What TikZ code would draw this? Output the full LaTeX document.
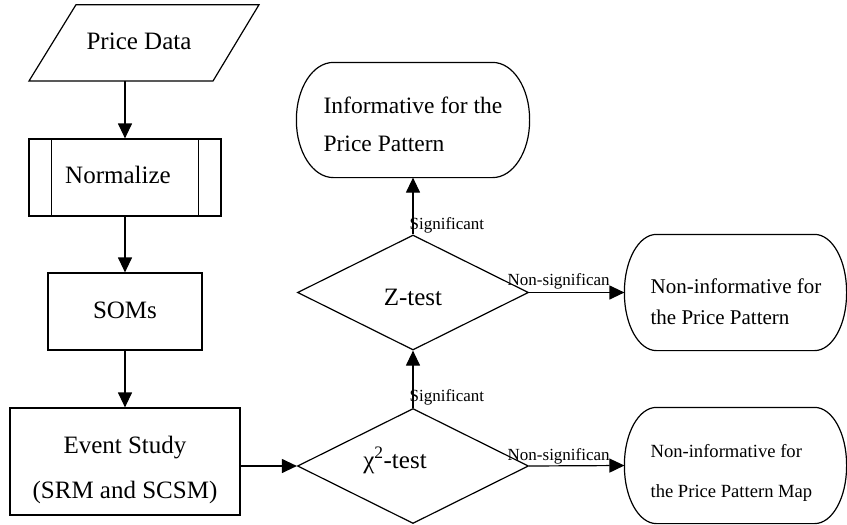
\documentclass[tikz,border=0pt]{standalone}
\usepackage{fontspec}
\setmainfont{Liberation Serif}
\usetikzlibrary{arrows.meta,shapes.geometric}
\newcommand\termshape[3]{%
  \draw ([xshift=#2pt]#1.north west) -- ([xshift=-#2pt]#1.north east)
    arc[start angle=90,end angle=0,x radius=#2pt,y radius=#3pt]
    -- ([yshift=#3pt]#1.south east)
    arc[start angle=0,end angle=-90,x radius=#2pt,y radius=#3pt]
    -- ([xshift=#2pt]#1.south west)
    arc[start angle=-90,end angle=-180,x radius=#2pt,y radius=#3pt]
    -- ([yshift=-#3pt]#1.north west)
    arc[start angle=180,end angle=90,x radius=#2pt,y radius=#3pt] -- cycle;}
\begin{document}
\begin{tikzpicture}[x=1pt,y=-1pt,line width=1.2pt,
  box/.style={draw,rectangle,inner sep=0pt},
  dia/.style={draw,diamond,inner sep=0pt,minimum width=231pt,minimum height=115pt},
  term/.style={rectangle,inner sep=0pt,minimum height=115pt},
  txt/.style={inner sep=0pt,font=\fontsize{25}{30}\selectfont},
  lbl/.style={inner sep=0pt,font=\fontsize{17}{20}\selectfont},
  arr/.style={-{Triangle[length=15pt,width=14pt]}}]
\useasboundingbox (0,0) rectangle (847,525);

% Price Data (input/output parallelogram)
\draw (76,4.7) -- (259,4.7) -- (213,81) -- (29,81) -- cycle;
\coordinate (pdout) at (125,81);
\node[txt,anchor=base] (pdtxt) at (139,49) {Price Data};

% Normalize (predefined process)
\node[box,minimum width=192pt,minimum height=77pt] (norm) at (125,177.5) {};
\draw ([xshift=23pt]norm.north west) -- ([xshift=23pt]norm.south west);
\draw ([xshift=-23pt]norm.north east) -- ([xshift=-23pt]norm.south east);
\node[txt,anchor=base] (normtxt) at (118,183) {Normalize};

% SOMs
\node[box,minimum width=154pt,minimum height=77pt] (som) at (125,311.5) {};
\node[txt,anchor=base] (somtxt) at (125,318) {SOMs};

% Event Study
\node[box,minimum width=230pt,minimum height=107pt] (event) at (125,461.5) {};
\node[txt,align=center,font=\fontsize{25}{45}\selectfont] (evtxt) at (125,469.5) {Event Study\\(SRM and SCSM)};

% Diamonds
\node[dia] (z) at (413,292.5) {};
\node[txt,anchor=base] (ztxt) at (413,305) {Z-test};
\node[dia] (chi) at (413,466) {};
\node[txt,anchor=base] (chitxt) at (395,468) {χ\textsuperscript{2}-test};

% Terminals
\node[term,minimum width=232pt,minimum height=114pt] (inf) at (413,120) {};
\termshape{inf}{37}{57}
\node[txt,align=left,anchor=west,font=\fontsize{23.5}{38}\selectfont] (inftxt) at (323,124) {Informative for the\\Price Pattern};

\node[term,minimum width=221pt] (ni1) at (735.5,292.5) {};
\termshape{ni1}{32}{57.5}
\node[txt,align=left,anchor=west,font=\fontsize{21}{31}\selectfont] (ni1txt) at (650,302) {Non-informative for\\the Price Pattern};

\node[term,minimum width=221pt] (ni2) at (735.5,465.5) {};
\termshape{ni2}{32}{57.5}
\node[txt,align=left,anchor=west,font=\fontsize{18.6}{40}\selectfont] (ni2txt) at (650,472.7) {Non-informative for\\the Price Pattern Map};

% Connectors
\draw[arr] (pdout) -- (norm.north);
\draw[arr] (norm.south) -- (som.north);
\draw[arr] (som.south) -- (event.north);
\draw[arr] (event.east |- chi.west) -- (chi.west);
\draw[arr] (chi.north) -- node[lbl,pos=0,anchor=base west,xshift=-4pt,yshift=6pt] (sig1) {Significant} (z.south);
\draw[arr] (z.north) -- node[lbl,pos=0,anchor=base west,xshift=-4pt,yshift=5pt] (sig2) {Significant} (inf.south);
\draw[arr] (chi.east) -- node[lbl,pos=0,anchor=base west,xshift=-22pt,yshift=6pt] (ns1) {Non-significan} (ni2.west);
\draw[arr] (z.east) -- node[lbl,pos=0,anchor=base west,xshift=-22pt,yshift=7pt] (ns2) {Non-significan} (ni1.west);
\end{tikzpicture}
\end{document}
